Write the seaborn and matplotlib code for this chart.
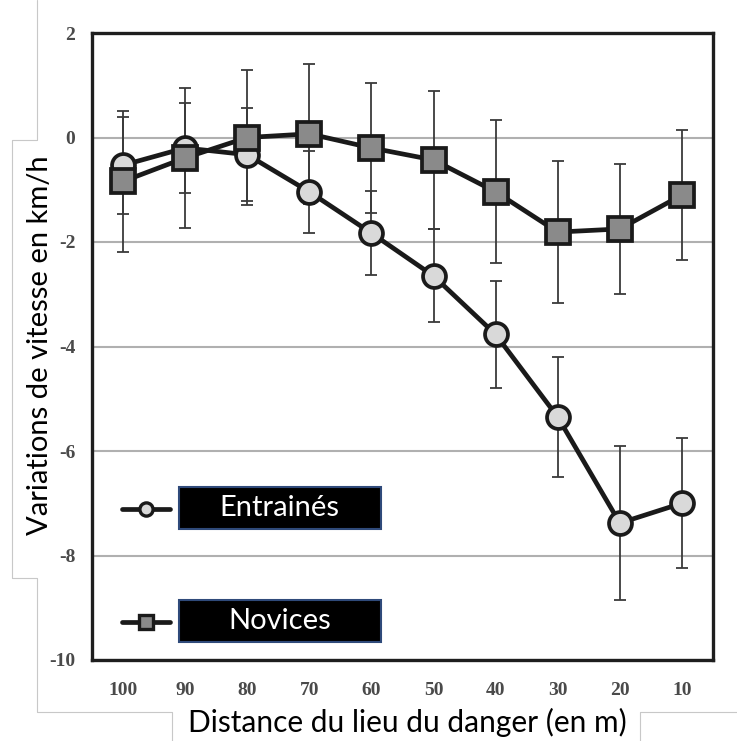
#!/usr/bin/env python3

import pandas as pd
import matplotlib.pyplot as plt
import seaborn as sns
from matplotlib.lines import Line2D
from matplotlib.patches import Rectangle


distances = [100, 90, 80, 70, 60, 50, 40, 30, 20, 10]

entraines_mean = [-0.53, -0.20, -0.33, -1.04, -1.83, -2.65, -3.77, -5.35, -7.38, -7.00]
entraines_sd = [0.93, 0.86, 0.89, 0.79, 0.80, 0.89, 1.03, 1.14, 1.48, 1.24]

novices_mean = [-0.84, -0.39, 0.00, 0.07, -0.20, -0.43, -1.04, -1.81, -1.75, -1.10]
novices_sd = [1.35, 1.34, 1.30, 1.34, 1.25, 1.32, 1.37, 1.36, 1.25, 1.25]

y_ticks = [2, 0, -2, -4, -6, -8, -10]

df = pd.concat([
    pd.DataFrame({"distance": distances, "variation": entraines_mean, "sd": entraines_sd, "groupe": "Entrainés"}),
    pd.DataFrame({"distance": distances, "variation": novices_mean, "sd": novices_sd, "groupe": "Novices"}),
])

styles = {
    "Entrainés": dict(marker="o", markersize=16.5, markerfacecolor="#d9d9d9", zorder=3),
    "Novices": dict(marker="s", markersize=17, markerfacecolor="#8a8a8a", zorder=4),
}

sns.set_style("white")
plt.rcParams["font.family"] = ["Lato", "DejaVu Sans"]

fig = plt.figure(figsize=(7.37, 7.41), dpi=100)
ax = fig.add_axes([92 / 737, 1 - 660 / 741, 621 / 737, 627 / 741])

for groupe, sub in df.groupby("groupe"):
    ax.errorbar(sub["distance"], sub["variation"], yerr=sub["sd"], fmt="none",
                ecolor="#3a3a3a", elinewidth=1.3, capsize=4.5, capthick=1.3, zorder=2)
    sns.lineplot(data=sub, x="distance", y="variation", ax=ax, color="#1a1a1a",
                 linewidth=3.4, markeredgecolor="#1a1a1a", markeredgewidth=2.7,
                 errorbar=None, **styles[groupe])

ax.set_xlim(105, 5)
ax.set_ylim(-10, 2)
ax.set_xticks(distances)
ax.set_yticks(y_ticks)
ax.set_yticklabels([str(t) for t in y_ticks])
ax.set_xlabel("")
ax.set_ylabel("")
ax.grid(True, axis="y", color="#b0b0b0", linewidth=1.5)
ax.set_axisbelow(True)
ax.tick_params(length=0)
ax.tick_params(axis="y", pad=12)
ax.tick_params(axis="x", pad=16)
for lab in ax.get_xticklabels() + ax.get_yticklabels():
    lab.set_family(["Liberation Serif"])
    lab.set_fontweight("bold")
    lab.set_fontsize(14)
    lab.set_color("#4a4a4a")
for spine in ax.spines.values():
    spine.set_color("#1e1e1e")
    spine.set_linewidth(2.4)
if ax.get_legend():
    ax.get_legend().remove()

# custom legend
legend_rows = [("Entrainés", 0.241, 0.209), ("Novices", 0.061, 0.029)]
for groupe, y_mid, y_box in legend_rows:
    st = styles[groupe]
    ax.add_line(Line2D([0.048, 0.126], [y_mid, y_mid], transform=ax.transAxes,
                       color="#1a1a1a", linewidth=3.4, zorder=5))
    ax.add_line(Line2D([0.087], [y_mid], transform=ax.transAxes, marker=st["marker"],
                       markersize=9.5, markerfacecolor=st["markerfacecolor"],
                       markeredgecolor="#1a1a1a", markeredgewidth=2.4, zorder=6))
    ax.add_patch(Rectangle((0.140, y_box), 0.325, 0.067, transform=ax.transAxes,
                           facecolor="black", edgecolor="#2f4a7a", linewidth=1.5, zorder=5))
    ax.text(0.3025, y_box + 0.0335, groupe, transform=ax.transAxes, ha="center",
            va="center", color="white", fontsize=21, zorder=6)

# axis titles as pasted text boxes
fig.text(40 / 737, 1 - 345 / 741, "Variations de vitesse en km/h", rotation=90,
         ha="center", va="center", fontsize=21, color="black")
fig.text(407 / 737, 1 - 722 / 741, "Distance du lieu du danger (en m)",
         ha="center", va="center", fontsize=21.5, color="black")

outline = [
    ([37, 37, 12, 12, 37, 37, 172, 172], [0, 140, 140, 578, 578, 712, 712, 741]),
    ([640, 640, 737], [741, 712, 712]),
]
for xs, ys in outline:
    fig.add_artist(Line2D([x / 737 for x in xs], [1 - y / 741 for y in ys],
                          transform=fig.transFigure, color="#c8c8c8", linewidth=0.8))

fig.savefig("out.png", dpi=100)
